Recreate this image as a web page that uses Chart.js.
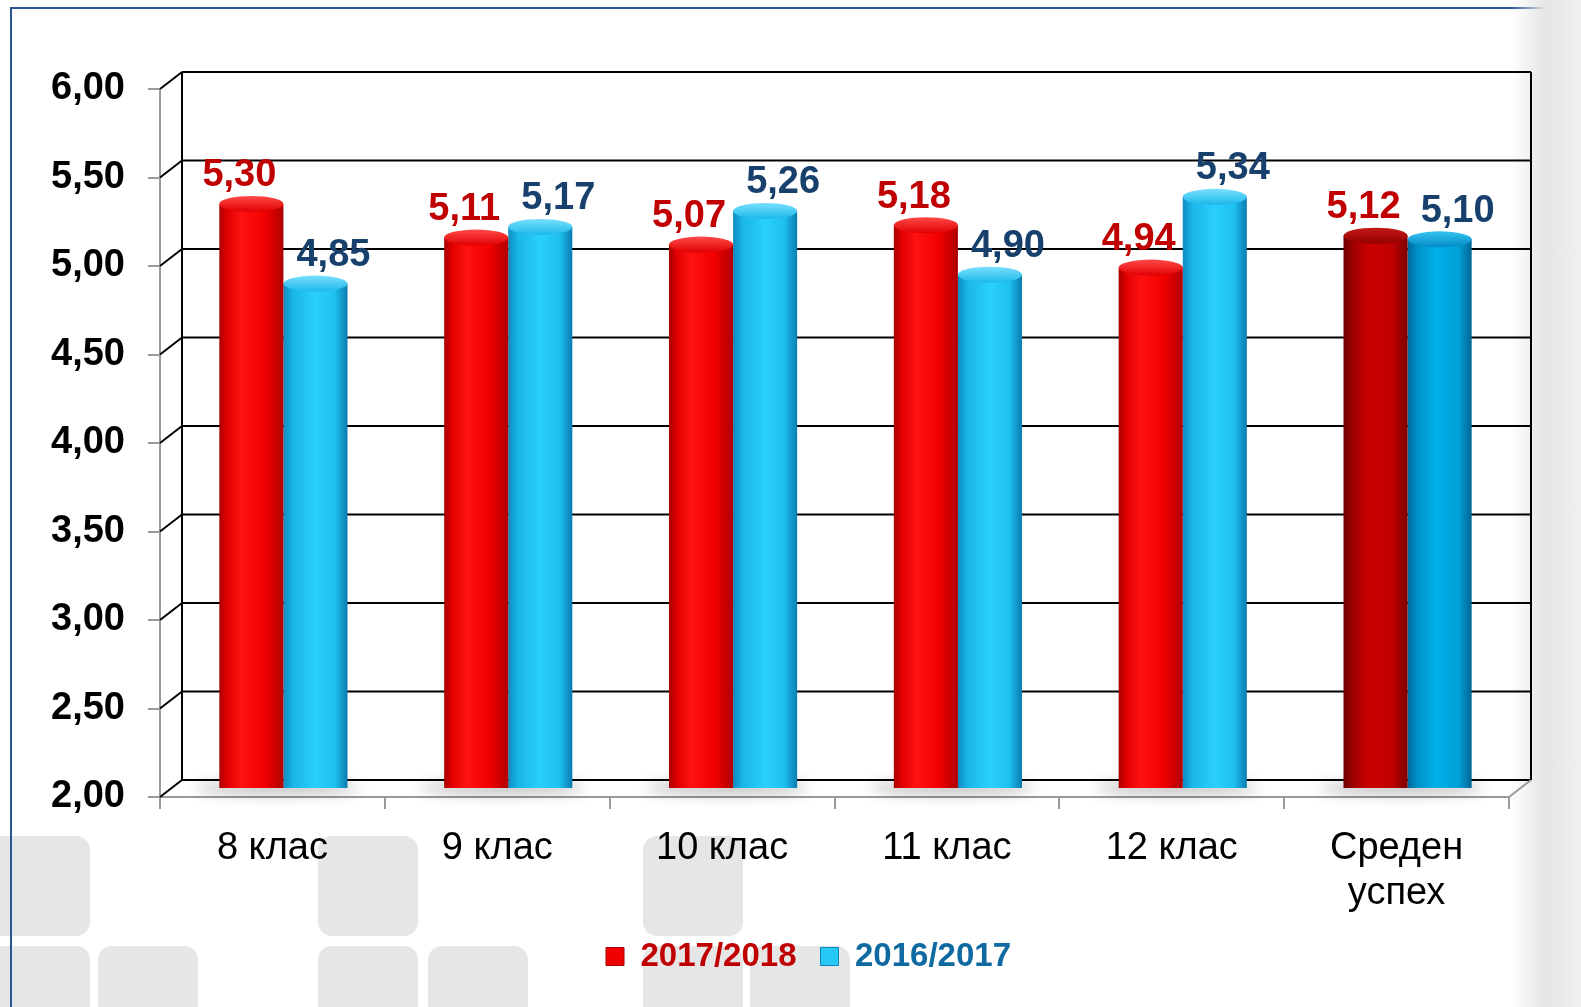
<!DOCTYPE html>
<html>
<head>
<meta charset="utf-8">
<script src="https://cdn.jsdelivr.net/npm/chart.js@4.4.1/dist/chart.umd.min.js"></script>
<style>
  html, body { margin: 0; padding: 0; background: #fff; }
  #wrap { position: relative; width: 1581px; height: 1007px; overflow: hidden; background: #fff; }
  .sq { position: absolute; width: 100px; height: 100px; background: #e6e6e6; border-radius: 14px; }
  #frame { position: absolute; left: 10px; top: 7px; width: 1600px; height: 1100px;
           border-top: 2px solid #2a5592; border-left: 2px solid #2a5592; }
  #edge { position: absolute; right: 0; top: 0; width: 70px; height: 1007px;
          background: linear-gradient(to right, rgba(236,236,236,0), #e4e4e4 50%, #f0f0f0); }
  canvas { position: absolute; left: 0; top: 0; }
</style>
</head>
<body>
<div id="wrap">
  <div class="sq" style="left:-10px;top:836px"></div>
  <div class="sq" style="left:318px;top:836px"></div>
  <div class="sq" style="left:643px;top:836px"></div>
  <div class="sq" style="left:-10px;top:946px"></div>
  <div class="sq" style="left:98px;top:946px"></div>
  <div class="sq" style="left:318px;top:946px"></div>
  <div class="sq" style="left:428px;top:946px"></div>
  <div class="sq" style="left:643px;top:946px"></div>
  <div class="sq" style="left:750px;top:946px"></div>
  <div id="frame"></div>
  <div id="edge"></div>
  <canvas id="uspeh" width="1581" height="1007"></canvas>
</div>
<script>
var categories = ["8 клас", "9 клас", "10 клас", "11 клас", "12 клас", ["Среден", "успех"]];
var seriesNames = ["2017/2018", "2016/2017"];
var values2018 = [5.30, 5.11, 5.07, 5.18, 4.94, 5.12];
var values2017 = [4.85, 5.17, 5.26, 4.90, 5.34, 5.10];
var yMin = 2, yMax = 6, yStep = 0.5;

var fontFamily = '"Liberation Sans", Arial, sans-serif';
var depthX = 22, depthY = -17;   // back wall offset
var midX = 11, midY = -9;        // bars sit half way in
var catPct = 0.57;

// gradient stops for the cylinders: [normal, last category]
var bodyStops = [
  [
    [[0, "#a80000"], [0.12, "#e00000"], [0.35, "#ff1212"], [0.7, "#f20000"], [1, "#b00000"]],
    [[0, "#6c0000"], [0.15, "#a00000"], [0.4, "#cc0000"], [0.75, "#c00000"], [1, "#7c0000"]]
  ],
  [
    [[0, "#0e8cc0"], [0.15, "#1ab6e8"], [0.5, "#2ad0fc"], [0.8, "#1ec0f0"], [1, "#0a7cae"]],
    [[0, "#00689a"], [0.15, "#0090c8"], [0.45, "#00b0e8"], [0.8, "#00a0d8"], [1, "#006694"]]
  ]
];
var topColors = [
  [["#ff4a4a", "#e00000"], ["#c41818", "#940000"]],
  [["#7ae0ff", "#1cb8ea"], ["#38c4f2", "#008cc4"]]
];
var labelColors = ["#c00000", "#17406d"];
var labelShift = [-12, 18];
var legendFill = ["#f00000", "#28c8f6"];
var legendStroke = ["#a00000", "#0a86b8"];
var legendText = ["#c00000", "#0e6aa0"];

function palIndex(i) { return i === categories.length - 1 ? 1 : 0; }

function cylinderFill(c) {
  var stops = bodyStops[c.datasetIndex][palIndex(c.dataIndex)];
  var x = c.chart.scales.x;
  if (!x || c.dataIndex === undefined) return stops[2][1];
  var catW = x.width / categories.length;
  var bw = catW * catPct / 2;
  var left = x.getPixelForValue(c.dataIndex) - catW * catPct / 2 + c.datasetIndex * bw;
  var g = c.chart.ctx.createLinearGradient(left, 0, left + bw, 0);
  stops.forEach(function (s) { g.addColorStop(s[0], s[1]); });
  return g;
}

var frame3d = {
  id: "frame3d",
  afterLayout: function (chart) {
    // legend sits a little left of the plot centre
    chart.legend.left -= 26;
    chart.legend.right -= 26;
  },
  beforeDatasetsDraw: function (chart) {
    var ctx = chart.ctx, a = chart.chartArea, y = chart.scales.y;
    ctx.save();
    ctx.lineWidth = 2;
    ctx.strokeStyle = "#000";
    // back wall grid + left wall diagonals
    y.ticks.forEach(function (t) {
      var py = y.getPixelForValue(t.value);
      ctx.beginPath();
      ctx.moveTo(a.left + depthX, py + depthY);
      ctx.lineTo(a.right + depthX, py + depthY);
      ctx.moveTo(a.left, py);
      ctx.lineTo(a.left + depthX, py + depthY);
      ctx.stroke();
    });
    ctx.beginPath();
    ctx.moveTo(a.left + depthX, a.top + depthY);
    ctx.lineTo(a.left + depthX, a.bottom + depthY);
    ctx.moveTo(a.right + depthX, a.top + depthY);
    ctx.lineTo(a.right + depthX, a.bottom + depthY);
    ctx.stroke();
    // floor right edge
    ctx.strokeStyle = "#9a9a9a";
    ctx.beginPath();
    ctx.moveTo(a.right, a.bottom);
    ctx.lineTo(a.right + depthX, a.bottom + depthY);
    ctx.stroke();
    // floor shadows
    ctx.filter = "blur(7px)";
    ctx.fillStyle = "rgba(0,0,0,0.28)";
    var m0 = chart.getDatasetMeta(0).data, m1 = chart.getDatasetMeta(1).data;
    m0.forEach(function (el, i) {
      var l = el.x - el.width / 2 + midX, r = m1[i].x + m1[i].width / 2 + midX;
      ctx.beginPath();
      ctx.ellipse((l + r) / 2 - 6, a.bottom + midY, (r - l) / 2 + 18, 6, 0, 0, Math.PI * 2);
      ctx.fill();
    });
    ctx.restore();
    ctx.save();
    ctx.translate(midX, midY);
  },
  afterDatasetsDraw: function (chart) {
    var ctx = chart.ctx;
    [0, 1].forEach(function (d) {
      chart.getDatasetMeta(d).data.forEach(function (el, i) {
        var rx = el.width / 2, ry = 8;
        ctx.fillStyle = el.options.backgroundColor;
        ctx.beginPath();
        ctx.ellipse(el.x, el.base, rx, ry, 0, 0, Math.PI);
        ctx.fill();
        var tc = topColors[d][palIndex(i)];
        var g = ctx.createLinearGradient(0, el.y - ry, 0, el.y + ry);
        g.addColorStop(0, tc[0]);
        g.addColorStop(1, tc[1]);
        ctx.fillStyle = g;
        ctx.beginPath();
        ctx.ellipse(el.x, el.y, rx, ry, 0, 0, Math.PI * 2);
        ctx.fill();
      });
    });
    ctx.restore();
    // value labels
    ctx.save();
    ctx.font = "bold 38px " + fontFamily;
    ctx.textAlign = "center";
    ctx.textBaseline = "middle";
    [0, 1].forEach(function (d) {
      var vals = chart.data.datasets[d].data;
      chart.getDatasetMeta(d).data.forEach(function (el, i) {
        ctx.fillStyle = labelColors[d];
        ctx.fillText(vals[i].toFixed(2).replace(".", ","), el.x + midX + labelShift[d], el.y + midY - 28);
      });
    });
    ctx.restore();
  }
};

new Chart("uspeh", {
  type: "bar",
  data: {
    labels: categories,
    datasets: [{
      label: seriesNames[0],
      data: values2018,
      backgroundColor: cylinderFill,
      borderWidth: 0
    }, {
      label: seriesNames[1],
      data: values2017,
      backgroundColor: cylinderFill,
      borderWidth: 0
    }]
  },
  options: {
    responsive: false,
    animation: false,
    categoryPercentage: catPct,
    barPercentage: 1,
    layout: { padding: { top: 89, right: 72, bottom: 24, left: 0 } },
    plugins: {
      tooltip: { enabled: false },
      legend: {
        position: "bottom",
        fullSize: false,
        labels: {
          boxWidth: 18,
          boxHeight: 18,
          padding: 24,
          font: { family: fontFamily, size: 33, weight: "bold" },
          generateLabels: function () {
            return seriesNames.map(function (n, i) {
              return { text: n, fillStyle: legendFill[i], strokeStyle: legendStroke[i],
                       lineWidth: 1, fontColor: legendText[i], datasetIndex: i, hidden: false };
            });
          }
        }
      }
    },
    scales: {
      x: {
        ticks: {
          color: "#000",
          maxRotation: 0,
          autoSkip: false,
          padding: 17,
          font: { family: fontFamily, size: 38, lineHeight: 1.18 }
        },
        grid: { drawOnChartArea: false, offset: true, tickLength: 12, color: "#9a9a9a", lineWidth: 2 },
        border: { color: "#9a9a9a", width: 2 },
        afterFit: function (s) { s.height = 119; }
      },
      y: {
        min: yMin,
        max: yMax,
        ticks: {
          stepSize: yStep,
          color: "#000",
          padding: 23,
          font: { family: fontFamily, size: 38, weight: "bold" },
          callback: function (v) { return v.toFixed(2).replace(".", ","); }
        },
        grid: { drawOnChartArea: false, tickLength: 12, color: "#9a9a9a", lineWidth: 2 },
        border: { color: "#9a9a9a", width: 2 },
        afterFit: function (s) { s.width = 160; }
      }
    }
  },
  plugins: [frame3d]
});
</script>
</body>
</html>
